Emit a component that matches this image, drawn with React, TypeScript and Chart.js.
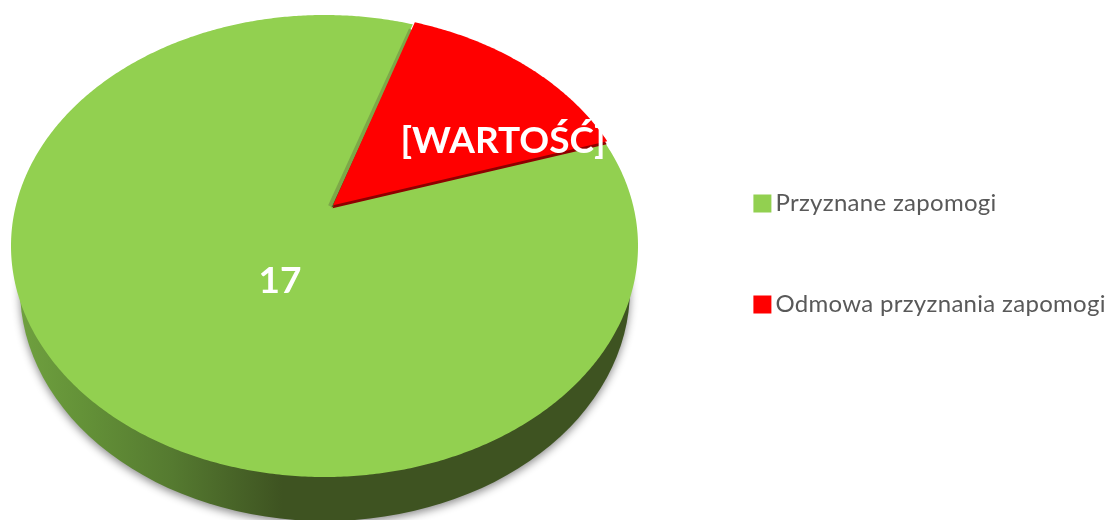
import React, { useEffect, useRef } from "react";
import { Chart, registerables } from "chart.js";

Chart.register(...registerables);

const categories = ["Przyznane zapomogi", "Odmowa przyznania zapomogi"];
const values = [17, 3];
const valueLabels = ["17", "[WARTOŚĆ]"];
const colors = ["#92D050", "#FF0000"];
const labelPositions = [[280, 281], [503, 141]];

const CX = 324.5, CY = 246, RX = 313.5, RY = 231;
const KY = 0.168, KX = 0.0207;

function project(a: number, r = 1): [number, number] {
  const u = r * Math.cos(a), v = -r * Math.sin(a);
  const d1 = 1 + KY * v;
  const x1 = (u * Math.sqrt(1 - KY * KY)) / d1;
  const y1 = (v + KY) / d1;
  const d2 = 1 + KX * x1;
  const x2 = (x1 + KX) / d2;
  const y2 = (y1 * Math.sqrt(1 - KX * KX)) / d2;
  return [CX + RX * x2, CY - RY * y2];
}

function wedgePath(ctx: CanvasRenderingContext2D, s: number, e: number, dx = 0, dy = 0) {
  ctx.beginPath();
  const c = project(0, 0);
  ctx.moveTo(c[0] + dx, c[1] + dy);
  const n = Math.ceil(((e - s) * 180) / Math.PI) * 2;
  for (let i = 0; i <= n; i++) {
    const p = project(s + ((e - s) * i) / n);
    ctx.lineTo(p[0] + dx, p[1] + dy);
  }
  ctx.closePath();
}

function perspectiveDraw(this: any, ctx: CanvasRenderingContext2D) {
  const s = this.startAngle, e = this.endAngle;
  const color = this.options.backgroundColor;
  ctx.save();
  if (color === colors[1]) {
    const c = project(0, 0), p = project(s);
    ctx.strokeStyle = "#7DA848";
    ctx.lineWidth = 4;
    ctx.beginPath();
    ctx.moveTo(c[0] - 1, c[1] - 1);
    ctx.lineTo(p[0] - 2, p[1] + 5);
    ctx.stroke();
    ctx.fillStyle = "#8E0000";
    wedgePath(ctx, s, e, 1.5, 1);
    ctx.fill();
    ctx.fillStyle = color;
    wedgePath(ctx, s, e, 2, -2);
    ctx.fill();
  } else {
    ctx.fillStyle = color;
    wedgePath(ctx, s, e);
    ctx.fill();
  }
  ctx.restore();
}

const pie3d = {
  id: "pie3d",
  beforeDraw(chart: any) {
    chart.ctx.letterSpacing = "0.3px";
  },
  beforeDatasetsDraw(chart: any) {
    const ctx = chart.ctx as CanvasRenderingContext2D;
    ctx.save();
    const g = ctx.createLinearGradient(20, 0, 630, 0);
    g.addColorStop(0, "#6FA03F");
    g.addColorStop(0.1, "#649238");
    g.addColorStop(0.25, "#557A30");
    g.addColorStop(0.43, "#3E5321");
    g.addColorStop(1, "#3E5321");
    ctx.shadowColor = "rgba(0,0,0,0.45)";
    ctx.shadowBlur = 9;
    ctx.shadowOffsetY = 3;
    ctx.fillStyle = g;
    ctx.beginPath();
    ctx.ellipse(325, 289, 305, 232, 0, 0, Math.PI * 2);
    ctx.fill();
    ctx.restore();
    chart.getDatasetMeta(0).data.forEach((el: any) => {
      el.draw = perspectiveDraw;
    });
  },
  afterDatasetsDraw(chart: any) {
    const ctx = chart.ctx as any;
    ctx.save();
    ctx.letterSpacing = "0px";
    ctx.fillStyle = "#FFFFFF";
    ctx.font = "bold 37px Lato";
    ctx.textAlign = "center";
    ctx.textBaseline = "middle";
    valueLabels.forEach((t, i) => {
      ctx.fillText(t, labelPositions[i][0], labelPositions[i][1]);
    });
    ctx.restore();
  },
};

export default function App() {
  const ref = useRef<HTMLCanvasElement>(null);
  useEffect(() => {
    document.body.style.margin = "0";
    const chart = new Chart(ref.current!, {
      type: "pie",
      data: {
        labels: categories,
        datasets: [
          { data: values, backgroundColor: colors, borderWidth: 0, clip: false } as any,
        ],
      },
      plugins: [pie3d],
      options: {
        responsive: false,
        animation: false,
        rotation: 72,
        layout: { padding: { bottom: 12, right: 2 } },
        plugins: {
          tooltip: { enabled: false },
          legend: {
            position: "right",
            labels: {
              color: "#595959",
              font: { family: "Lato", size: 24 },
              padding: 77,
              boxWidth: 2,
              boxHeight: 2,
              generateLabels: () =>
                categories.map((text, i) => ({
                  text,
                  fillStyle: colors[i],
                  strokeStyle: colors[i],
                  lineWidth: 16,
                  fontColor: "#595959",
                  index: i,
                })),
            },
          },
        },
      },
    } as any);
    return () => chart.destroy();
  }, []);
  return <canvas ref={ref} width={1110} height={520} style={{ display: "block" }} />;
}
